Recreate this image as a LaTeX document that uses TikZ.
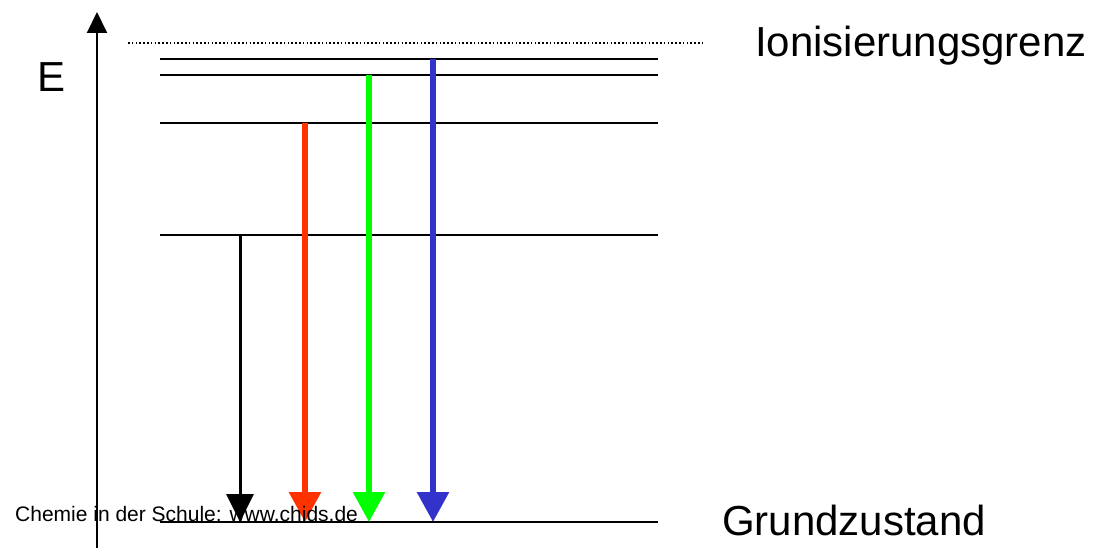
\documentclass[tikz,border=0pt]{standalone}
\usepackage{fontspec}
\setmainfont{Liberation Sans}
\usetikzlibrary{positioning,arrows.meta}

\tikzset{
  level/.style={line width=2pt},
  trans/.style={line width=6pt,-{Triangle[length=30pt,width=31pt]}},
  biglabel/.style={font=\fontsize{42}{50}\selectfont,inner sep=0pt,anchor=base west},
}

\begin{document}
\begin{tikzpicture}[x=1pt,y=-1pt]
      \useasboundingbox (0,0) rectangle (1093,548);
      % energy axis
      \coordinate (axisbot) at (97,548);
      \coordinate (axistop) at (97,12);
      \draw[line width=2pt,-{Triangle[length=21pt,width=20pt]}] (axisbot) -- (axistop);
      \node[biglabel] (elabel) at (37,92) {E};
      % ionisation limit
      \coordinate (ionl) at (128,43);
      \coordinate (ionr) at (703,43);
      \draw[line width=1.2pt,dash pattern=on 1.5pt off 2.3pt] (ionl) -- (ionr);
      \node[biglabel] (ion) at (755,57) {Ionisierungsgrenz};
      % levels
      \foreach \name/\y in {lva/59,lvb/75,lvc/123,lvd/235,gnd/522}{
        \coordinate (\name l) at (160,\y);
        \coordinate (\name r) at (658,\y);
        \draw[level] (\name l) -- (\name r);
      }
      \node[biglabel] (ground) at (722,535) {Grundzustand};
      % transitions
      \coordinate (blackt) at (240,235);
      \coordinate (blackb) at (240,522);
      \coordinate (redt) at (305,123);
      \coordinate (redb) at (305,522);
      \coordinate (greent) at (369,75);
      \coordinate (greenb) at (369,522);
      \coordinate (bluet) at (433,59);
      \coordinate (blueb) at (433,522);
      \draw[line width=3pt,-{Triangle[length=28pt,width=27pt]}] (blackt) -- (blackb);
      \draw[trans,color={rgb,255:red,255;green,51;blue,0}] (redt) -- (redb);
      \draw[trans,color={rgb,255:red,0;green,255;blue,0}] (greent) -- (greenb);
      \draw[trans,color={rgb,255:red,51;green,51;blue,204}] (bluet) -- (blueb);
      % source
      \node[font=\fontsize{21}{25}\selectfont,inner sep=0pt,anchor=base west] (src) at (15,521) {Chemie in der Schule: www.chids.de};
\end{tikzpicture}
\end{document}
